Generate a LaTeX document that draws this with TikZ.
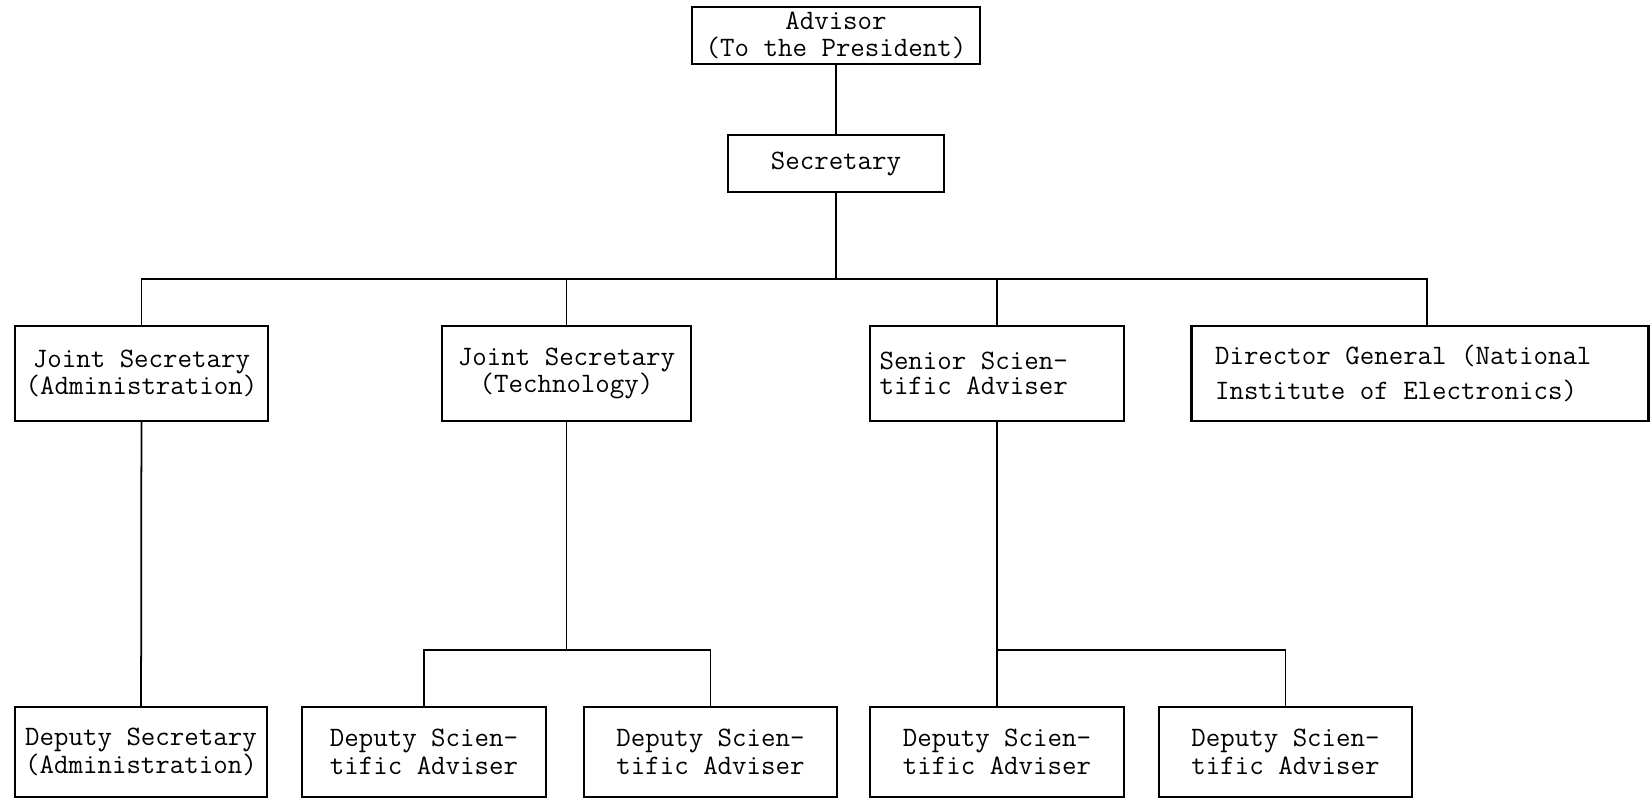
\documentclass[tikz,border=0pt]{standalone}
\usepackage{fontspec}
\usetikzlibrary{positioning}
\tikzset{
  post/.style={draw, line width=1.3pt, inner sep=2pt, minimum height=1.9cm, align=center, font=\ttfamily\fontsize{16}{14.5}\selectfont},
  leftpost/.style={post, align=left},
  widepost/.style={leftpost, font=\ttfamily\fontsize{16}{19.8}\selectfont},
  lowpost/.style={post, minimum height=1.8cm, font=\ttfamily\fontsize{16}{16}\selectfont},
  link/.style={line width=1pt}
}

\begin{document}
\begin{tikzpicture}[x=0.02cm, y=-0.02cm]
  \useasboundingbox (0,0) rectangle (1650,799);
  % top
  \node[post, minimum width=5.76cm, minimum height=1.14cm, font=\ttfamily\fontsize{16}{15.5}\selectfont] (adv) at (836,35.5) {Advisor\\(To the President)};
  \node[post, minimum width=4.32cm, minimum height=1.14cm] (sec) at (836,163.5) {Secretary};
  % second row
  \node[post, minimum width=5.06cm] (jsa) at (141.5,373.5) {Joint Secretary\\(Administration)};
  \node[post, minimum width=4.98cm] (jst) at (566.5,373.5) {Joint Secretary\\(Technology)};
  \node[leftpost, minimum width=5.08cm] (ssa) at (997,373.5) {\makebox[4.7cm][l]{Senior Scien-}\\tific Adviser};
  \node[widepost, minimum width=9.14cm] (dg) at (1420,373.5) {\makebox[8.2cm][l]{Director General (National}\\Institute of Electronics)};
  % third row
  \node[lowpost, minimum width=5.04cm] (dseca) at (141,752) {Deputy Secretary\\(Administration)};
  \node[lowpost, minimum width=4.88cm] (dsa1) at (424,752) {Deputy Scien-\\tific Adviser};
  \node[lowpost, minimum width=5.06cm] (dsa2) at (710.5,752) {Deputy Scien-\\tific Adviser};
  \node[lowpost, minimum width=5.08cm] (dsa3) at (997,752) {Deputy Scien-\\tific Adviser};
  \node[lowpost, minimum width=5.06cm] (dsa4) at (1285.5,752) {Deputy Scien-\\tific Adviser};
  % lines
  \coordinate (bus) at (836,279);
  \coordinate (techbus) at (566.5,650);
  \draw[link] (adv) -- (sec);
  \draw[link] (sec) -- (bus);
  \draw[link] (jsa.north) |- (bus) -| ([xshift=0.14cm]dg.north);
  \draw[link] (jst.north) -- (jst.north |- bus);
  \draw[link] (ssa.north) -- (ssa.north |- bus);
  \draw[link] (jsa) -- (dseca);
  \draw[link] (jst) -- (techbus);
  \draw[link] (dsa1.north) |- (techbus) -| (dsa2.north);
  \draw[link] (ssa) -- (dsa3);
  \draw[link] (dsa3.north |- techbus) -| (dsa4.north);
\end{tikzpicture}
\end{document}
